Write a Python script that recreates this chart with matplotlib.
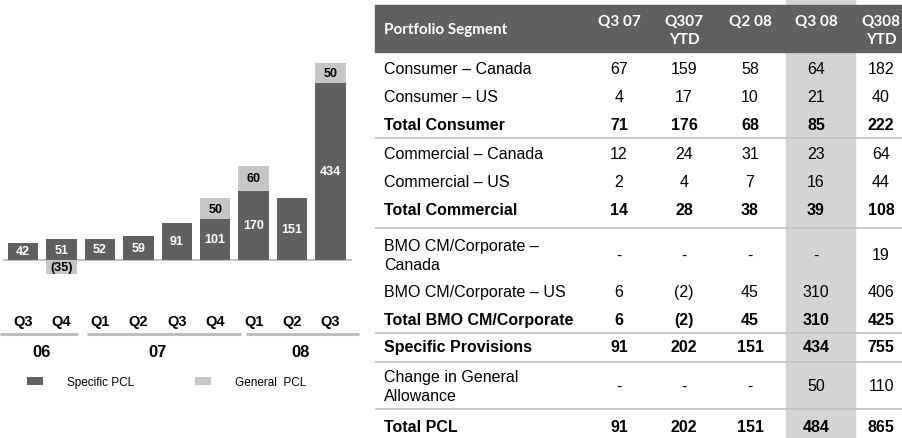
import matplotlib
matplotlib.use("Agg")
import matplotlib.pyplot as plt
from matplotlib.patches import Rectangle

plt.rcParams['font.family'] = ['Liberation Sans', 'DejaVu Sans']

# 柱状图数据
quarters = ['Q3', 'Q4', 'Q1', 'Q2', 'Q3', 'Q4', 'Q1', 'Q2', 'Q3']
specific_pcl = [42, 51, 52, 59, 91, 101, 170, 151, 434]
general_pcl = [0, -35, 0, 0, 0, 50, 60, 0, 50]
years = ['06', '07', '08']

# 表格数据
col_headers = ['Q3 07', 'Q307\nYTD', 'Q2 08', 'Q3 08', 'Q308\nYTD']
segments = ['Consumer – Canada', 'Consumer – US', 'Total Consumer',
            'Commercial – Canada', 'Commercial – US', 'Total Commercial',
            'BMO CM/Corporate –\nCanada', 'BMO CM/Corporate – US', 'Total BMO CM/Corporate',
            'Specific Provisions', 'Change in General\nAllowance', 'Total PCL']
bold_rows = [2, 5, 8, 9, 11]
q3_07 = ['67', '4', '71', '12', '2', '14', '-', '6', '6', '91', '-', '91']
q3_07_ytd = ['159', '17', '176', '24', '4', '28', '-', '(2)', '(2)', '202', '-', '202']
q2_08 = ['58', '10', '68', '31', '7', '38', '-', '45', '45', '151', '-', '151']
q3_08 = ['64', '21', '85', '23', '16', '39', '-', '310', '310', '434', '50', '484']
q3_08_ytd = ['182', '40', '222', '64', '44', '108', '19', '406', '425', '755', '110', '865']

DARK = '#606060'
LIGHT = '#c6c6c6'
HILITE = '#d4d4d4'
LINE = '#c4c4c4'

W, H = 902, 439
fig = plt.figure(figsize=(W / 100, H / 100), dpi=100)

# ---- 左侧柱状图 ----
STEP = 38.44      # 每个柱子的像素间距
X0 = 23           # 第一个柱子中心
BASE = 261        # 基线像素位置
SCALE = 0.408     # 每单位像素
ax = fig.add_axes([0, 0, 365 / W, 1])
ax.set_xlim(-X0 / STEP, (365 - X0) / STEP)
ax.set_ylim(-(H - BASE) / SCALE, BASE / SCALE)
ax.axis('off')


def py(p):
    # 像素 y -> 数据 y
    return (BASE - p) / SCALE


idx = list(range(len(quarters)))
bottoms = [s if g > 0 else 0 for s, g in zip(specific_pcl, general_pcl)]
b1 = ax.bar(idx, specific_pcl, width=0.79, color=DARK, zorder=2)
b2 = ax.bar(idx, general_pcl, width=0.79, bottom=bottoms, color=LIGHT, zorder=2)
ax.plot([-0.49, 8.53], [0, 0], color='#bbbbbb', lw=1.3, zorder=1)

for i, (s, g, b) in enumerate(zip(specific_pcl, general_pcl, bottoms)):
    ax.text(i, s / 2, str(s), ha='center', va='center', color='white',
            fontsize=9, fontweight='bold')
    if g != 0:
        lab = str(g) if g > 0 else '(%d)' % -g
        ax.text(i, b + g / 2, lab, ha='center', va='center', color='black',
                fontsize=9, fontweight='bold')

for i, q in enumerate(quarters):
    ax.text(i, py(322), q, ha='center', va='center', fontsize=10.5, fontweight='bold')

line_ends = [(-0.6, 1.43), (1.66, 5.67), (5.80, 8.74)]
year_x = [0.47, 3.49, 7.23]
for (a, b), yx, yr in zip(line_ends, year_x, years):
    ax.plot([a, b], [py(335), py(335)], color='#bdbdbd', lw=2.2,
            solid_capstyle='butt', clip_on=False)
    ax.text(yx, py(353), yr, ha='center', va='center', fontsize=12, fontweight='bold')

ax.legend([b1, b2], ['Specific PCL', 'General  PCL'], loc='center left',
          bbox_to_anchor=(27 / W, 1 - 383 / H), bbox_transform=fig.transFigure,
          ncol=2, frameon=False, fontsize=8.5, borderpad=0, borderaxespad=0,
          handlelength=1.36, handleheight=0.68, handletextpad=2.0, columnspacing=5.2)

# ---- 右侧表格 ----
tx = fig.add_axes([370 / W, 0, (W - 370) / W, 1])
tx.set_xlim(370, W)
tx.set_ylim(H, 0)
tx.axis('off')

col_x = [619, 684, 750, 816, 881]
row_y = [69, 98, 126, 155, 183, 211, 256, 293, 321, 348, 387, 428]
sep_y = [139, 229, 334, 363, 410]

tx.add_patch(Rectangle((786, 0), 69, H, color=HILITE, zorder=0))
tx.add_patch(Rectangle((375, 6), W - 375, 47, color=DARK, zorder=1))
for y in sep_y:
    tx.plot([376, W], [y, y], color=LINE, lw=1.3, zorder=1)

tx.text(384, 30, 'Portfolio Segment', ha='left', va='center', color='white',
        fontsize=11, fontweight='bold', family=['Lato', 'DejaVu Sans'], zorder=2)
for x, h in zip(col_x, col_headers):
    for k, part in enumerate(h.split('\n')):
        tx.text(x, 22 + 18 * k, part, ha='center', va='center', color='white',
                fontsize=11, fontweight='bold', family=['Lato', 'DejaVu Sans'], zorder=2)

columns = [q3_07, q3_07_ytd, q2_08, q3_08, q3_08_ytd]
for r, (seg, y) in enumerate(zip(segments, row_y)):
    wt = 'bold' if r in bold_rows else 'normal'
    tx.text(384, y, seg, ha='left', va='center', fontsize=11.5, fontweight=wt,
            linespacing=1.3, zorder=2)
    for x, col in zip(col_x, columns):
        tx.text(x, y, col[r], ha='center', va='center', fontsize=11.5, fontweight=wt,
                zorder=2)

fig.savefig('out.png', dpi=100, facecolor='white')
